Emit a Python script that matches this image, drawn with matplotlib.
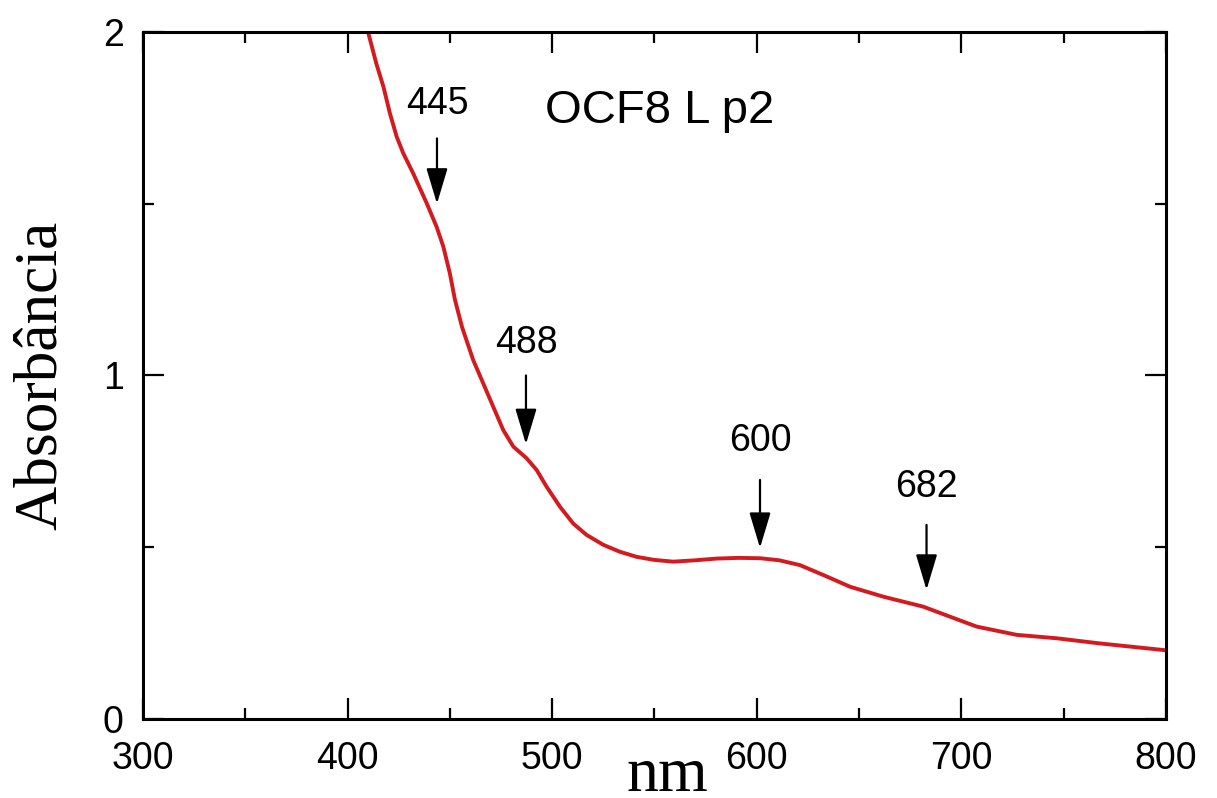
import matplotlib
matplotlib.use("Agg")
import matplotlib.pyplot as plt
from matplotlib.ticker import MultipleLocator

# spectrum
wavelength = [410, 414, 417.5, 420.7, 424, 427.2, 432.1, 438.7, 443.5, 446.8, 450, 452.5, 456,
              461.4, 466.3, 471.2, 476.1, 481, 487.5, 492.4, 497.3, 503.8, 510.3, 516.8, 525,
              533, 541.3, 550, 559.2, 570, 580.4, 591, 601.6, 611, 621.1, 633, 645.6, 661.9,
              681.4, 694.4, 707.5, 727, 746.6, 767.7, 800]
absorbance = [2.0, 1.909, 1.841, 1.763, 1.695, 1.647, 1.588, 1.501, 1.433, 1.375, 1.297, 1.22, 1.14,
              1.045, 0.977, 0.909, 0.841, 0.793, 0.759, 0.725, 0.676, 0.618, 0.569, 0.536, 0.507,
              0.487, 0.472, 0.463, 0.458, 0.462, 0.467, 0.469, 0.468, 0.462, 0.448, 0.418, 0.385, 0.356,
              0.327, 0.298, 0.269, 0.245, 0.235, 0.220, 0.200]

# peak markers: label, x, arrow tail, arrow head, label y
peak_labels = ["445", "488", "600", "682"]
peak_x = [443.7, 487.2, 601.6, 683]
arrow_tail = [1.69, 1.0, 0.696, 0.565]
arrow_head = [1.50, 0.80, 0.498, 0.376]
label_y = [1.79, 1.095, 0.81, 0.675]

fig = plt.figure(figsize=(12.17, 7.98), dpi=100)
ax = fig.add_axes([0.1175, 0.099, 0.8405, 0.861])

ax.plot(wavelength, absorbance, color="#d41a1f", lw=2.8, solid_joinstyle="round")

ax.set_xlim(300, 800)
ax.set_ylim(0, 2)
ax.xaxis.set_major_locator(MultipleLocator(100))
ax.xaxis.set_minor_locator(MultipleLocator(50))
ax.yaxis.set_major_locator(MultipleLocator(1))
ax.yaxis.set_minor_locator(MultipleLocator(0.5))

ax.tick_params(which="both", direction="in", top=True, right=True, width=1.6, colors="k")
ax.tick_params(which="major", length=15)
ax.tick_params(which="minor", length=8)
ax.tick_params(axis="x", which="major", pad=16)
ax.tick_params(axis="y", which="major", pad=14)
for lab in ax.get_xticklabels() + ax.get_yticklabels():
    lab.set_fontfamily("Liberation Sans")
    lab.set_fontsize(27)

for sp in ax.spines.values():
    sp.set_linewidth(2.2)

ax.set_ylabel("Absorbância", family="Liberation Serif", fontsize=44)
ax.yaxis.set_label_coords(-0.072, 0.5)
ax.set_xlabel("nm", family="Liberation Serif", fontsize=46)
ax.xaxis.set_label_coords(0.5125, -0.041)

for lab, x, t, h, ly in zip(peak_labels, peak_x, arrow_tail, arrow_head, label_y):
    ax.annotate("", xy=(x, h), xytext=(x, t),
                arrowprops=dict(arrowstyle="-|>,head_length=1.0,head_width=0.3", color="k",
                                lw=1.6, mutation_scale=22, shrinkA=0, shrinkB=0))
    ax.text(x, ly, lab, ha="center", va="center", family="Liberation Sans", fontsize=27)

ax.text(552.7, 1.77, "OCF8 L p2", ha="center", va="center", family="Liberation Sans", fontsize=34)

fig.savefig("out.png", dpi=100)
